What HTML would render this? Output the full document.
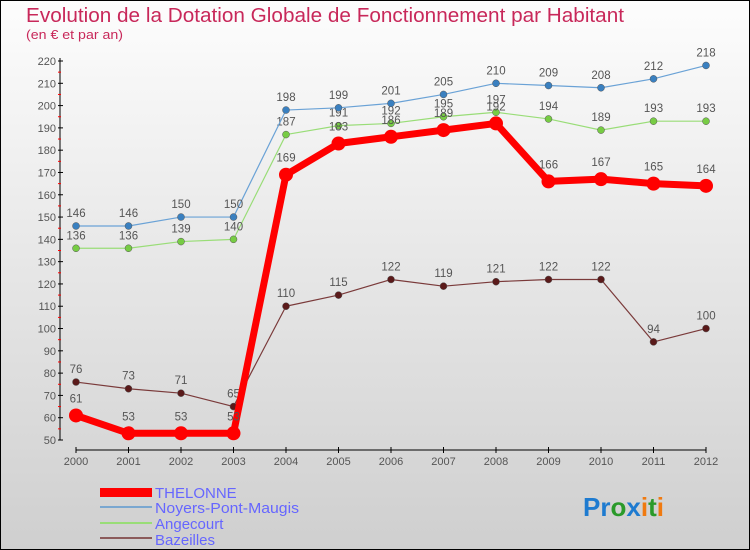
<!DOCTYPE html>
<html><head><meta charset="utf-8"><style>
body{margin:0}
svg{display:block;font-family:"Liberation Sans",sans-serif}
</style></head><body>
<svg id="c" width="750" height="550" xmlns="http://www.w3.org/2000/svg">
<defs><linearGradient id="bg" x1="0" y1="0" x2="0" y2="1"><stop offset="0" stop-color="#fdfdfd"/><stop offset="1" stop-color="#cfcfcf"/></linearGradient></defs>
<rect x="0.5" y="0.5" width="749" height="549" fill="url(#bg)" stroke="#000"/>
<text x="26" y="22" font-size="20" fill="#c8285a" textLength="598" lengthAdjust="spacingAndGlyphs">Evolution de la Dotation Globale de Fonctionnement par Habitant</text>
<text x="26" y="39" font-size="12.5" fill="#c8285a" textLength="97" lengthAdjust="spacingAndGlyphs">(en € et par an)</text>
<g id="axes"></g><g id="series"></g>
<g>
<rect x="100" y="488" width="52" height="9" fill="#f00"/>
<text x="155" y="498" font-size="15" fill="#6666ff">THELONNE</text>
<line x1="100" y1="507" x2="152" y2="507" stroke="#7aa7d0" stroke-width="2"/>
<text x="155" y="513" font-size="15" fill="#6666ff" textLength="144" lengthAdjust="spacingAndGlyphs">Noyers-Pont-Maugis</text>
<line x1="100" y1="523" x2="152" y2="523" stroke="#99dd77" stroke-width="2"/>
<text x="155" y="529" font-size="15" fill="#6666ff">Angecourt</text>
<line x1="100" y1="538" x2="152" y2="538" stroke="#8b5a5a" stroke-width="2"/>
<text x="155" y="545" font-size="15" fill="#6666ff">Bazeilles</text>
</g>
<text x="583" y="516" font-size="26" font-weight="bold"><tspan fill="#1e7bd0">Pr</tspan><tspan fill="#2a9a2a">o</tspan><tspan fill="#1e7bd0">x</tspan><tspan fill="#f07a10">i</tspan><tspan fill="#2a9a2a">t</tspan><tspan fill="#f07a10">i</tspan></text>
</svg>
<script>
const years=[2000,2001,2002,2003,2004,2005,2006,2007,2008,2009,2010,2011,2012];
const thelonne=[61,53,53,53,169,183,186,189,192,166,167,165,164];
const noyers=[146,146,150,150,198,199,201,205,210,209,208,212,218];
const angecourt=[136,136,139,140,187,191,192,195,197,194,189,193,193];
const bazeilles=[76,73,71,65,110,115,122,119,121,122,122,94,100];
const yTicks=[50,60,70,80,90,100,110,120,130,140,150,160,170,180,190,200,210,220];
const NS="http://www.w3.org/2000/svg";
const X=i=>76+i*(706-76)/(years.length-1);
const Y=v=>440-(v-50)*(440-61)/170;
function mk(t,a,p){const e=document.createElementNS(NS,t);for(const k in a)e.setAttribute(k,a[k]);p.appendChild(e);return e;}
const ax=document.getElementById('axes'),sg=document.getElementById('series');
const ya=mk('line',{x1:60,y1:Y(220)-3,x2:60,y2:Y(50),stroke:'#000'},ax);


yTicks.forEach((v,k)=>{
 mk('line',{x1:58,x2:63,y1:Y(v),y2:Y(v),stroke:'#000'},ax);
 if(k<yTicks.length-1) mk('line',{x1:58,x2:61,y1:Y(v+5),y2:Y(v+5),stroke:'#f00'},ax);
 const t=mk('text',{x:56,y:Y(v)+4,'font-size':11,fill:'#555','text-anchor':'end'},ax);t.textContent=v;
 
 
});
const xa=mk('line',{x1:X(0),x2:X(12),y1:450,y2:450,stroke:'#000'},ax);


years.forEach((y,i)=>{
 mk('line',{x1:X(i),x2:X(i),y1:447,y2:453,stroke:'#000'},ax);
 const t=mk('text',{x:X(i),y:465,'font-size':11,fill:'#555','text-anchor':'middle'},ax);t.textContent=y;
 
 
});
function series(name,d,col,w,r,dot,lbl){
 const g=mk('g',{},sg);
 
 
 mk('polyline',{points:d.map((v,i)=>X(i)+','+Y(v)).join(' '),fill:'none',stroke:col,'stroke-width':w,'stroke-linejoin':'round'},g);
 d.forEach((v,i)=>{
  const c=mk('circle',{cx:X(i),cy:Y(v),r:r,fill:dot,stroke:dot==col?'none':'#555','stroke-width':0.5},g);
  
  
  const t=mk('text',{x:X(i),y:Y(v)-lbl,'font-size':11.5,fill:'#555','text-anchor':'middle'},g);t.textContent=v;
 });
}
series('bazeilles',bazeilles,'#7a3a3a',1.2,3.5,'#5a1a1a',9);
series('angecourt',angecourt,'#99dd77',1.2,3.5,'#77cc44',9);
series('noyers',noyers,'#6aa2d6',1.2,3.5,'#3a80c0',9);
series('thelonne',thelonne,'#f00',7,7,'#f00',13);
</script>
</body></html>
